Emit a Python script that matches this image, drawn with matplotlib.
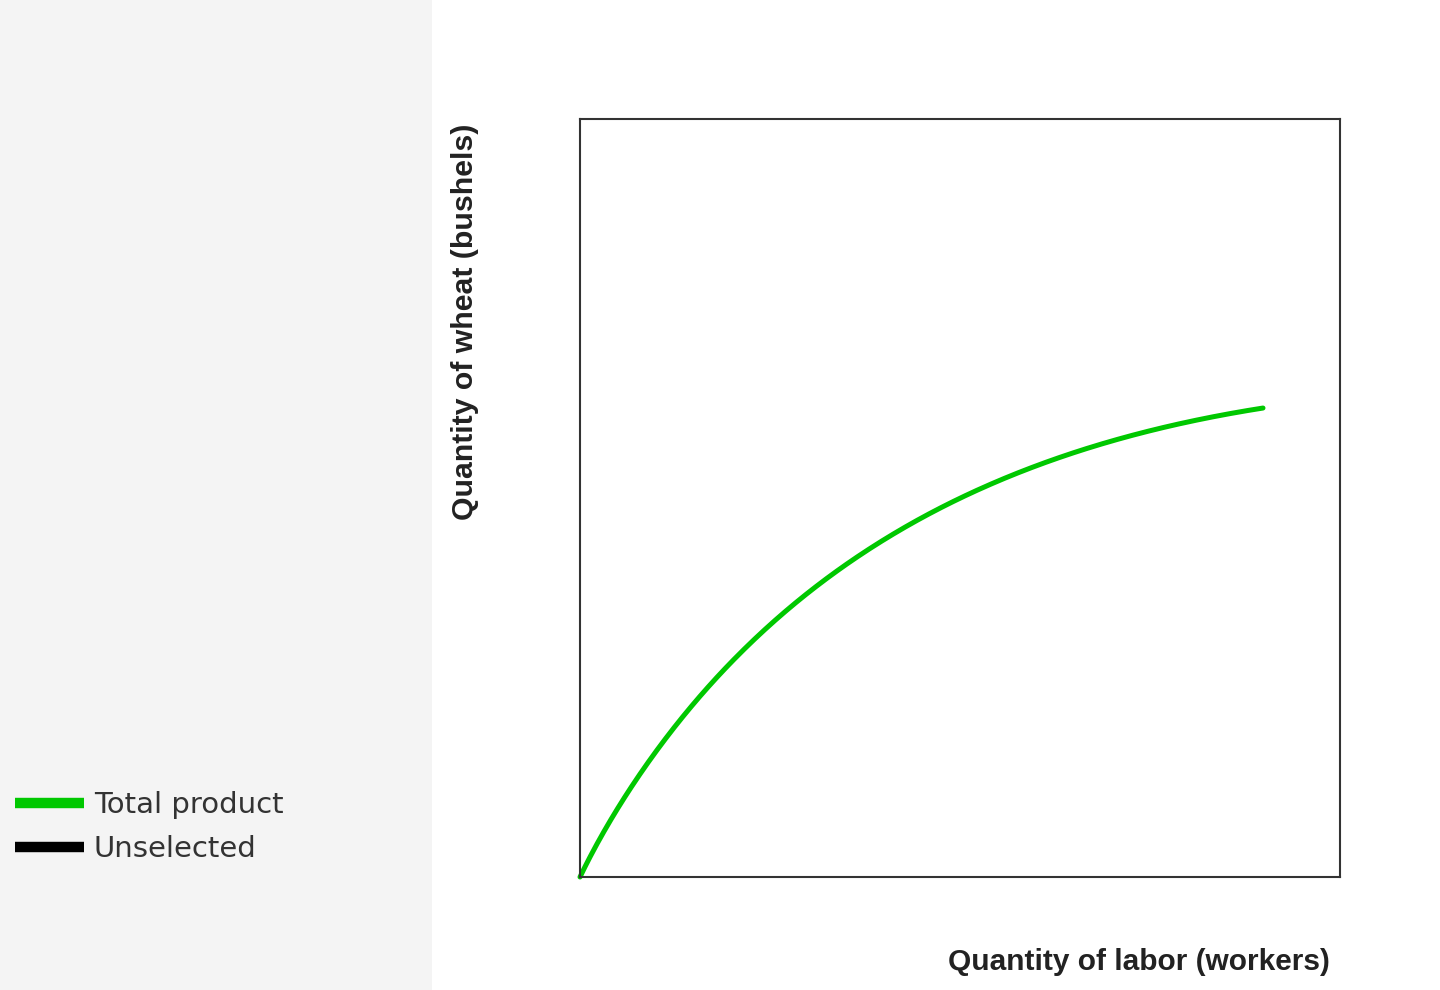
import matplotlib
matplotlib.use("Agg")
from matplotlib import pyplot as plt
from matplotlib.lines import Line2D
from matplotlib.patches import Rectangle
import numpy as np

# total product curve (axis units 0..10)
labor = [0, 0.395, 0.789, 1.184, 1.579, 2.013, 2.461, 2.895, 3.329, 3.776, 4.211,
         4.645, 5.092, 5.526, 5.961, 6.408, 7.013, 7.461, 7.895, 8.329, 8.987]
wheat = [0, 0.726, 1.346, 1.900, 2.401, 2.889, 3.298, 3.654, 3.984, 4.288, 4.565,
         4.815, 5.040, 5.237, 5.409, 5.567, 5.765, 5.897, 6.003, 6.082, 6.148]

series_names = ["Total product", "Unselected"]
series_colors = ["#00c800", "#000000"]

W, H = 1440, 990
fig = plt.figure(figsize=(W / 100, H / 100), dpi=100)
fig.patch.set_facecolor("white")

# grey side panel
fig.patches.append(Rectangle((0, 0), 432 / W, 1, transform=fig.transFigure,
                             facecolor="#f4f4f4", edgecolor="none", zorder=0))

ax = fig.add_axes([580 / W, 1 - 877 / H, 760 / W, 758 / H])
ax.set_xlim(0, 10)
ax.set_ylim(0, 10)
ax.set_xticks([])
ax.set_yticks([])
for s in ax.spines.values():
    s.set_color("#333333")
    s.set_linewidth(1.5)

# least squares smoothing of the read points (through the origin)
lx = np.array(labor)
u = np.log1p(lx)
A = np.column_stack([u, u**2, u**3, u**4])
c, *_ = np.linalg.lstsq(A, np.array(wheat), rcond=None)
xs = np.linspace(lx[0], lx[-1], 400)
us = np.log1p(xs)
ys = c[0] * us + c[1] * us**2 + c[2] * us**3 + c[3] * us**4
ax.plot(xs, ys, color=series_colors[0], lw=3.6, solid_capstyle="round", clip_on=False)

fig.text(465 / W, 1 - 322 / H, "Quantity of wheat (bushels)", rotation=90,
         ha="center", va="center", family="Liberation Sans", weight="bold",
         fontsize=21.8, color="#222222")
fig.text(1330 / W, 1 - 962 / H, "Quantity of labor (workers)",
         ha="right", va="center", family="Liberation Sans", weight="bold",
         fontsize=21.5, color="#222222")

handles = [Line2D([0], [0], color=c, lw=7.5, solid_capstyle="butt") for c in series_colors]
leg = fig.legend(handles, series_names, loc="upper left",
                 bbox_to_anchor=(15 / W, 1 - 791 / H), frameon=False,
                 borderpad=0, borderaxespad=0,
                 handlelength=2.36, handletextpad=0.34, labelspacing=0.55,
                 prop={"family": "DejaVu Sans", "size": 21})
for t in leg.get_texts():
    t.set_color("#333333")

fig.savefig("out.png", dpi=100, facecolor=fig.get_facecolor())
